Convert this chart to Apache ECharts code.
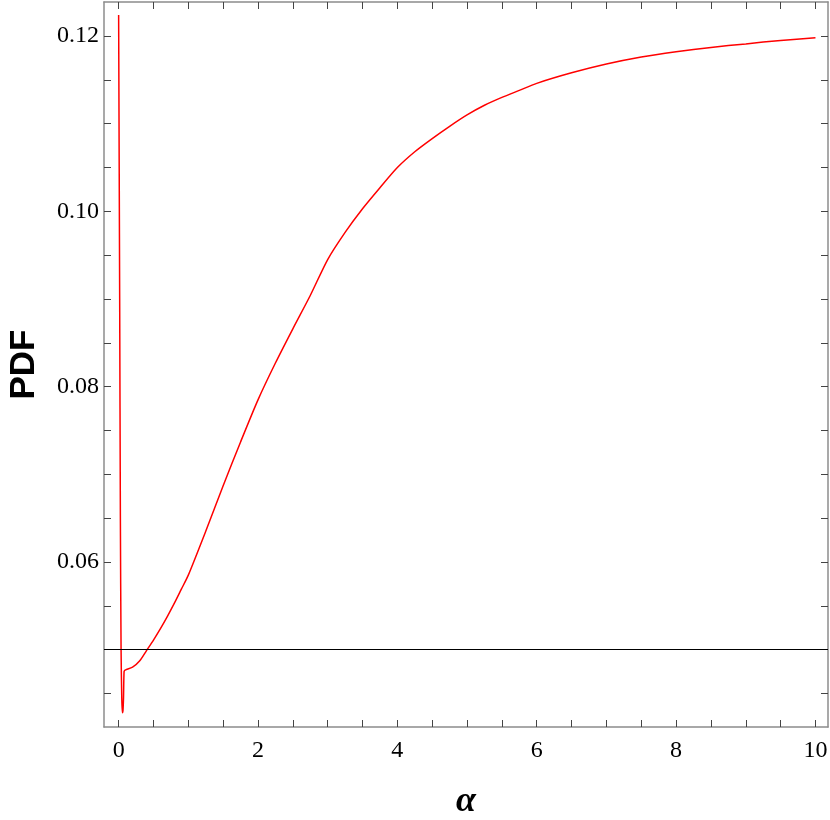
<!DOCTYPE html>
<html>
<head>
<meta charset="utf-8">
<script src="https://cdn.jsdelivr.net/npm/echarts@6.0.0/dist/echarts.min.js"></script>
<style>
  html, body { margin: 0; padding: 0; background: #fff; }
  #chart { width: 830px; height: 820px; }
</style>
</head>
<body>
<div id="chart"></div>
<script>
// alpha values and the PDF
const alphaValues = [
  0, 0.015, 0.025, 0.035, 0.045, 0.055, 0.062, 0.07, 0.078, 0.09,
  0.1, 0.2, 0.3, 0.4, 0.5, 0.6, 0.7, 0.8, 0.9, 1.0,
  1.25, 1.5, 1.75, 2.0, 2.25, 2.5, 2.75, 3.0, 3.25, 3.5, 3.75, 4.0,
  4.25, 4.5, 4.75, 5.0, 5.25, 5.5, 5.75, 6.0, 6.5, 7.0, 7.5, 8.0, 8.5, 9.0, 9.5, 10.0
]
const pdfValues = [
  0.1224, 0.090, 0.065, 0.050, 0.0445, 0.0428, 0.0430, 0.0445, 0.0475, 0.04765,
  0.0477, 0.0480, 0.0487, 0.0499, 0.0511, 0.0524, 0.0538, 0.0553, 0.0569, 0.0585,
  0.0635, 0.0687, 0.0737, 0.0785, 0.0827, 0.0866, 0.0904, 0.0945, 0.0976, 0.1003, 0.1027, 0.1050,
  0.1068, 0.1083, 0.1097, 0.1110, 0.1121, 0.1130, 0.1138, 0.1146, 0.1158, 0.1168, 0.1176, 0.1182, 0.1187, 0.1191, 0.1195, 0.1198
]
const refLevel = 0.05

const xLabelValues = [0, 2, 4, 6, 8, 10]
const xTickValues = [0, 0.5, 1, 1.5, 2, 2.5, 3, 3.5, 4, 4.5, 5, 5.5, 6, 6.5, 7, 7.5, 8, 8.5, 9, 9.5, 10]
const yLabelValues = [0.06, 0.08, 0.10, 0.12]
const yTickValues = [0.045, 0.05, 0.055, 0.06, 0.065, 0.07, 0.075, 0.08, 0.085, 0.09,
  0.095, 0.1, 0.105, 0.11, 0.115, 0.12]

const xMin = -0.21, xMax = 10.18
const yMin = 0.04118, yMax = 0.12388

const chart = echarts.init(document.getElementById('chart'))

const frameLine = { show: true, onZero: false, lineStyle: { color: '#8c8c8c', width: 1.5 } }
const tickStyle = { lineStyle: { color: '#444', width: 1 } }
const serif = 'Liberation Serif, Times New Roman, serif'

const makeX = (pos, labels) => ({
  type: 'value',
  position: pos,
  min: xMin,
  max: xMax,
  axisLine: frameLine,
  axisTick: { show: true, inside: true, length: 7, customValues: xTickValues, ...tickStyle },
  axisLabel: labels
    ? { show: true, customValues: xLabelValues, fontFamily: serif, fontSize: 24, color: '#000', margin: 12 }
    : { show: false },
  splitLine: { show: false },
  name: labels ? 'α' : '',
  nameLocation: 'middle',
  nameGap: 57,
  nameTextStyle: { fontFamily: serif, fontSize: 36, fontStyle: 'italic', fontWeight: 'bold', color: '#000' }
})

const makeY = (pos, labels) => ({
  type: 'value',
  position: pos,
  min: yMin,
  max: yMax,
  axisLine: frameLine,
  axisTick: { show: true, inside: true, length: 7, customValues: yTickValues, ...tickStyle },
  axisLabel: labels
    ? { show: true, customValues: yLabelValues, formatter: v => v.toFixed(2),
        fontFamily: serif, fontSize: 24, color: '#000', margin: 5 }
    : { show: false },
  splitLine: { show: false },
  name: labels ? 'PDF' : '',
  nameLocation: 'middle',
  nameRotate: 90,
  nameGap: 62,
  nameTextStyle: { fontFamily: 'Liberation Sans, Arial, sans-serif', fontSize: 35, fontWeight: 'bold', color: '#000' }
})

chart.setOption({
  animation: false,
  backgroundColor: '#fff',
  grid: { left: 104, right: 2, top: 2, bottom: 93, containLabel: false, outerBoundsMode: 'none' },
  xAxis: [makeX('bottom', true), makeX('top', false)],
  yAxis: [makeY('left', true), makeY('right', false)],
  series: [
    {
      type: 'line',
      data: alphaValues.map((a, i) => [a, pdfValues[i]]),
      showSymbol: false,
      smooth: 0.25,
      lineStyle: { color: '#ff0000', width: 1.5 },
      z: 3,
      markLine: {
        silent: true,
        symbol: 'none',
        label: { show: false },
        lineStyle: { color: '#000', width: 1, type: 'solid' },
        data: [{ yAxis: refLevel }]
      }
    }
  ]
})
</script>
</body>
</html>
